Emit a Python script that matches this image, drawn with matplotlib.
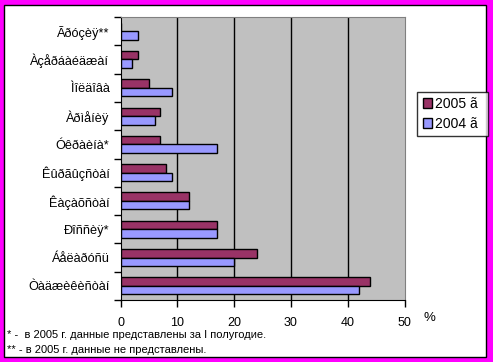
import matplotlib
matplotlib.use("Agg")
import matplotlib.pyplot as plt
import matplotlib.patches as mpatches
import numpy as np

categories = ["Ãðóçèÿ**", "Àçåðáàéäæàí", "Ìîëäîâà", "Àðìåíèÿ", "Óêðàèíà*",
              "Êûðãûçñòàí", "Êàçàõñòàí", "Ðîññèÿ*", "Áåëàðóñü", "Òàäæèêèñòàí"]
vals_2005 = [0, 3, 5, 7, 7, 8, 12, 17, 24, 44]
vals_2004 = [3, 2, 9, 6, 17, 9, 12, 17, 20, 42]
series_labels = ["2005 ã", "2004 ã"]
xticks = [0, 10, 20, 30, 40, 50]
footnotes = ["* -  в 2005 г. данные представлены за I полугодие.",
             "** - в 2005 г. данные не представлены."]

W, H = 493, 362
fig = plt.figure(figsize=(W/100, H/100), dpi=100)
plt.rcParams['font.family'] = ['Liberation Sans', 'DejaVu Sans']

# border
fig.patches.append(mpatches.Rectangle((0, 0), 1, 1, transform=fig.transFigure,
                                      facecolor='#FF00FF', edgecolor='none', zorder=-10))
fig.patches.append(mpatches.Rectangle((4/W, 5/H), (486-4)/W, (357-5)/H, transform=fig.transFigure,
                                      facecolor='white', edgecolor='black', linewidth=1, zorder=-9))

ax = fig.add_axes([120.5/W, 1-300/H, (404.5-120.5)/W, (300-17)/H])
ax.set_facecolor('#C0C0C0')

n = len(categories)
y = np.arange(n)[::-1]
bh = 0.30
ax.barh(y + bh/2, vals_2005, height=bh, color='#993366', edgecolor='black', linewidth=1, zorder=3,
        label=series_labels[0])
ax.barh(y - bh/2, vals_2004, height=bh, color='#9999FF', edgecolor='black', linewidth=1, zorder=3,
        label=series_labels[1])

ax.set_xlim(0, 50)
ax.set_ylim(-0.5, n - 0.5)
ax.set_xticks(xticks)
ax.set_xticklabels([str(t) for t in xticks], fontsize=9)
for t in xticks[1:-1]:
    ax.axvline(t, color='black', linewidth=1, zorder=1)

ax.set_yticks(np.arange(-0.5, n, 1.0))
ax.set_yticklabels([])
ax.set_yticks(y, minor=True)
ax.set_yticklabels(categories, minor=True, fontsize=9.2)
ax.tick_params(axis='y', which='minor', length=0, pad=8)
ax.tick_params(axis='y', which='major', length=5, direction='out', width=1)
ax.tick_params(axis='x', length=5, direction='out', width=1, pad=7)

for s in ['top', 'right']:
    ax.spines[s].set_color('#808080')
for s in ['left', 'bottom']:
    ax.spines[s].set_color('black')

fig.text(424/W, 1-318/H, "%", fontsize=9.5, ha='left', va='center')

leg = ax.legend(loc='upper left', bbox_to_anchor=(417/W, 1-92/H, 71/W, 0.001), mode='expand',
                bbox_transform=fig.transFigure,
                fontsize=10, frameon=True, fancybox=False, edgecolor='black', handlelength=0.7,
                handleheight=0.7, handletextpad=0.2, borderpad=0.4, labelspacing=0.4, borderaxespad=0)
leg.get_frame().set_linewidth(1)

fig.text(7/W, 1-335.5/H, footnotes[0], fontsize=8, ha='left', va='center')
fig.text(7/W, 1-350/H, footnotes[1], fontsize=8, ha='left', va='center')

fig.savefig("out.png", dpi=100)
